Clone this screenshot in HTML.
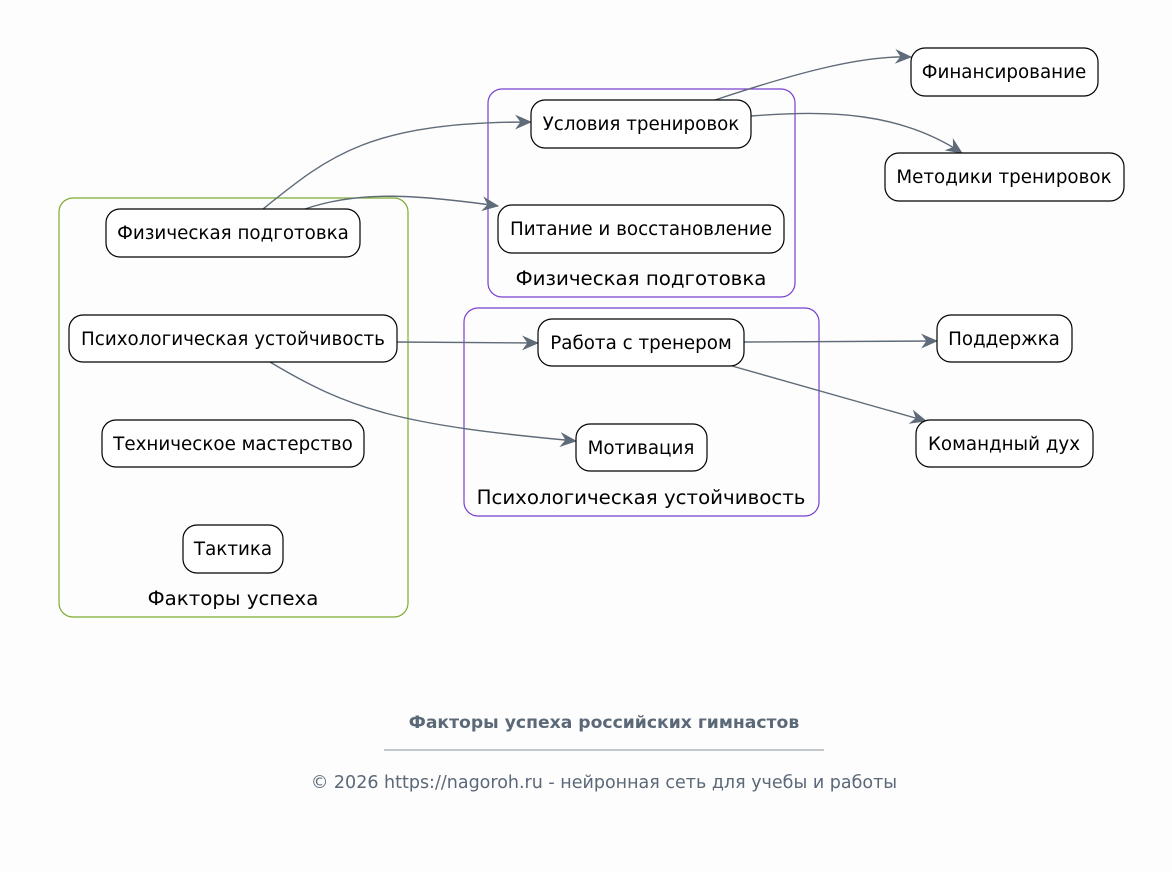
<!DOCTYPE html>
<html><head><meta charset="utf-8"><style>
body{margin:0;background:#fdfdfd;}
svg text{font-family:"DejaVu Sans","Liberation Sans",sans-serif;}
</style></head><body>
<svg width="1172" height="867" viewBox="0 0 1172 867" xmlns="http://www.w3.org/2000/svg">
<defs><marker id="a" viewBox="0 0 16 16" refX="15" refY="8" markerWidth="17" markerHeight="17" markerUnits="userSpaceOnUse" orient="auto">
<path d="M0,1 L16,8 L0,15 L5,8 Z" fill="#5f6b78"/></marker></defs>
<rect width="1172" height="867" fill="#fdfdfd"/>
<rect x="59" y="198" width="349" height="419" rx="14" fill="none" stroke="#7cab2f" stroke-width="1.2"/>
<rect x="488" y="89" width="307" height="208" rx="14" fill="none" stroke="#7a3fd0" stroke-width="1.2"/>
<rect x="464" y="308" width="355" height="208" rx="14" fill="none" stroke="#7a3fd0" stroke-width="1.2"/>
<g font-size="19.8" text-anchor="middle" fill="#000">
<text x="233" y="605">Факторы успеха</text>
<text x="641" y="285">Физическая подготовка</text>
<text x="641" y="504">Психологическая устойчивость</text>
</g>
<g fill="none" stroke="#5f6b78" stroke-width="1.4" marker-end="url(#a)">
<path d="M263,209 C330,155 370,122 531,122"/>
<path d="M305,209 C360,190 420,195 498,206"/>
<path d="M715,100 C790,75 860,55 911,57"/>
<path d="M751,116 C830,110 900,112 962,153"/>
<path d="M397,342 L538,343"/>
<path d="M744,342 L937,341"/>
<path d="M270,362 C350,410 400,425 576,441"/>
<path d="M732,366 L926,421"/>
</g>
<g fill="#fff" stroke="#000" stroke-width="1.2">
<rect x="911" y="48" width="187" height="48" rx="14"/>
<rect x="531" y="100" width="220" height="48" rx="14"/>
<rect x="885" y="153" width="239" height="48" rx="14"/>
<rect x="106" y="209" width="254" height="48" rx="14"/>
<rect x="498" y="205" width="286" height="48" rx="14"/>
<rect x="69" y="315" width="328" height="47" rx="14"/>
<rect x="538" y="319" width="206" height="47" rx="14"/>
<rect x="937" y="315" width="135" height="47" rx="14"/>
<rect x="576" y="424" width="131" height="47" rx="14"/>
<rect x="916" y="420" width="177" height="47" rx="14"/>
<rect x="102" y="420" width="262" height="47" rx="14"/>
<rect x="183" y="525" width="100" height="48" rx="14"/>
</g>
<g font-size="18.3" text-anchor="middle" fill="#000">
<text x="1004" y="78">Финансирование</text>
<text x="641" y="130">Условия тренировок</text>
<text x="1004" y="183">Методики тренировок</text>
<text x="233" y="239">Физическая подготовка</text>
<text x="641" y="235">Питание и восстановление</text>
<text x="233" y="345">Психологическая устойчивость</text>
<text x="641" y="349">Работа с тренером</text>
<text x="1004" y="345">Поддержка</text>
<text x="641" y="454">Мотивация</text>
<text x="1004" y="450">Командный дух</text>
<text x="233" y="450">Техническое мастерство</text>
<text x="233" y="555">Тактика</text>
</g>
<text x="604" y="728" font-size="17.2" font-weight="bold" fill="#5a6878" text-anchor="middle">Факторы успеха российских гимнастов</text>
<line x1="384" y1="750" x2="824" y2="750" stroke="#5a6878" stroke-width="0.8"/>
<text x="604" y="788" font-size="17.5" fill="#5a6878" text-anchor="middle">© 2026 https://nagoroh.ru - нейронная сеть для учебы и работы</text>
</svg>
</body></html>
